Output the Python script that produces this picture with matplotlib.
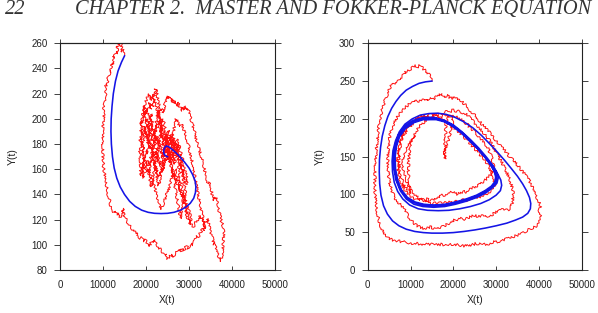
import matplotlib
matplotlib.use("Agg")
import matplotlib.pyplot as plt

# ---------------- data, as (X, Y) points ----------------
# Left panel: deterministic trajectory (blue)
left_blue = [(15000, 250), (14300, 245), (13500, 238), (12900, 230), (12400, 220), (12100, 210),
             (11900, 200), (11850, 190), (11950, 180), (12200, 170), (12600, 161), (13200, 153),
             (14000, 146), (15000, 140), (16200, 134.5), (17500, 130.5), (19000, 127.5),
             (20500, 125.8), (22000, 125), (23500, 124.8), (25000, 125), (26500, 125.8),
             (28000, 127.5), (29300, 130), (30300, 133), (31100, 137), (31500, 141.5),
             (31600, 146), (31400, 151), (30800, 156), (30000, 161), (29000, 165.5),
             (28000, 169.5), (27000, 173), (26000, 176), (25200, 178), (24700, 178.5),
             (24300, 177), (24100, 174.5), (24200, 172), (24600, 170.5), (25000, 170)]

# Left panel: stochastic trajectory (red) - outer excursion
left_red_outer = [
    (15000, 250), (14800, 252), (14600, 255), (14500, 253), (14300, 257), (14200, 260),
    (14000, 261), (13900, 259), (13700, 260), (13600, 257), (13400, 258), (13300, 254),
    (13100, 252), (12900, 253), (12700, 249), (12500, 250), (12400, 247), (12200, 243),
    (12100, 244), (11900, 240), (11700, 237), (11600, 238), (11400, 234), (11200, 233),
    (11000, 229), (10900, 226), (10700, 227), (10500, 223), (10600, 220), (10700, 218),
    (10500, 215), (10400, 212), (10200, 210), (10100, 206), (10200, 203), (10100, 199),
    (9950, 196), (10000, 192), (9900, 189), (10000, 185), (9950, 181), (9900, 177),
    (10000, 173), (9950, 169), (10100, 166), (10050, 162), (10200, 160), (10400, 156),
    (10350, 153), (10600, 150), (10700, 147), (10900, 145), (11100, 142), (11200, 139),
    (11500, 137), (11600, 134), (11800, 131), (12000, 129), (12300, 128), (12500, 126),
    (12800, 127), (13100, 125), (13400, 124), (13700, 125), (13900, 122), (14200, 123),
    (14500, 124), (14700, 129), (14800, 124), (15100, 121), (15400, 120), (15700, 118),
    (16000, 117), (16300, 115), (16600, 114), (16900, 112), (17200, 112), (17500, 109),
    (17800, 110), (18100, 108), (18400, 106), (18700, 105), (19000, 106), (19300, 104),
    (19600, 103), (19900, 104), (20200, 102), (20500, 100), (20800, 99), (21100, 101),
    (21400, 103), (21700, 102), (22000, 104), (22300, 101), (22600, 99), (22900, 98),
    (23200, 97), (23500, 96), (23800, 94), (24100, 92), (24400, 93), (24700, 90),
    (25000, 89), (25300, 90), (25600, 91), (25900, 90), (26200, 92), (26500, 91),
    (26800, 93), (27100, 94), (27400, 96), (27700, 95), (28000, 97), (28300, 95),
    (28600, 97), (28900, 96), (29200, 98), (29500, 99), (29800, 97), (30100, 99),
    (30400, 100), (30700, 101), (31000, 100), (31300, 103), (31600, 105), (31900, 107),
    (32200, 106), (32500, 109), (32800, 110), (33100, 113), (33400, 111), (33700, 116),
    (34000, 118), (34200, 121), (34400, 119), (34600, 116), (34800, 113), (35000, 111),
    (35200, 108), (35400, 106), (35600, 103), (35800, 100), (36000, 101), (36200, 97),
    (36400, 95), (36600, 93), (36800, 91), (37000, 90), (37200, 88), (37400, 87),
    (37500, 89), (37700, 92), (37800, 96), (37900, 100), (38000, 104), (38100, 108),
    (38000, 112), (37900, 115), (37700, 117), (37500, 119), (37300, 122), (37100, 125),
    (36900, 128), (36800, 131), (36600, 134), (36400, 137), (36200, 136), (36000, 138),
    (35800, 135), (35600, 137), (35400, 140), (35200, 143), (35000, 146), (34800, 148),
    (34600, 150), (34400, 149), (34200, 152), (34000, 155), (33800, 157), (33600, 160),
    (33400, 163), (33200, 165), (33000, 168), (32800, 171), (32600, 173), (32400, 175),
    (32200, 178), (32000, 180), (31800, 183), (31600, 185), (31400, 188), (31200, 191),
    (31000, 193), (30800, 196), (30600, 198), (30400, 201), (30200, 204), (30000, 206),
    (29800, 208), (29600, 207), (29400, 209), (29200, 208), (29000, 210), (28800, 207),
    (28600, 209), (28400, 206), (28200, 208), (28000, 209), (27800, 210), (27600, 212),
    (27400, 210), (27200, 213), (27000, 212), (26800, 214), (26600, 213), (26400, 215),
    (26200, 213), (26000, 216), (25800, 214), (25600, 217), (25400, 216), (25200, 218),
    (25000, 216), (24800, 218), (24600, 215), (24400, 212), (24200, 208), (24000, 205)]

# Left panel: stochastic trajectory (red) - tangle around the fixed point
left_red_tangle = [
    (24000, 205), (23700, 208), (23400, 206), (23100, 210), (22800, 214), (22600, 219),
    (22400, 222), (22200, 224), (22000, 221), (21900, 217), (21700, 213), (21500, 210),
    (21300, 212), (21100, 208), (20900, 211), (20700, 213), (20500, 209), (20300, 205),
    (20100, 207), (19900, 203), (19700, 206), (19500, 202), (19300, 199), (19100, 196),
    (18900, 198), (18700, 193), (18800, 188), (18600, 184), (18700, 179), (18500, 175),
    (18700, 171), (18600, 166), (18800, 162), (18700, 158), (18900, 155), (19100, 159),
    (19200, 164), (19400, 161), (19600, 166), (19700, 171), (19900, 175), (20100, 172),
    (20300, 178), (20400, 183), (20600, 187), (20700, 192), (20900, 196), (21000, 201),
    (21200, 204), (21400, 200), (21500, 195), (21700, 190), (21800, 185), (22000, 188),
    (22200, 192), (22300, 196), (22500, 200), (22700, 204), (22900, 207), (23100, 203),
    (23300, 198), (23500, 193), (23700, 189), (23900, 185), (24100, 181), (24300, 178),
    (24600, 175), (24800, 171), (25100, 168), (25300, 172), (25600, 176), (25800, 180),
    (26000, 184), (26200, 181), (26400, 185), (26600, 182), (26800, 178), (27000, 174),
    (27200, 170), (27400, 166), (27600, 161), (27800, 157), (28000, 152), (28200, 148),
    (28400, 144), (28600, 140), (28800, 137), (29000, 133), (29200, 129), (29400, 125),
    (29700, 121), (30000, 118), (30300, 116), (30600, 118), (30400, 122), (30100, 126),
    (29800, 129), (29500, 131), (29200, 135), (28900, 139), (28600, 138), (28300, 141),
    (28000, 145), (27700, 149), (27400, 152), (27100, 156), (26800, 160), (26500, 158),
    (26200, 155), (25900, 152), (25600, 148), (25300, 145), (25000, 142), (24700, 139),
    (24400, 136), (24100, 133), (23800, 131), (23500, 128), (23200, 131), (22900, 134),
    (22600, 138), (22300, 142), (22000, 146), (21700, 150), (21400, 153), (21100, 156),
    (20800, 160), (20500, 158), (20200, 161), (19900, 165), (19600, 169), (19400, 174),
    (19200, 178), (19400, 183), (19600, 187), (19800, 192), (20000, 196), (20200, 200),
    (20400, 197), (20600, 193), (20800, 189), (21000, 185), (21200, 181), (21400, 177),
    (21600, 173), (21800, 169), (22000, 165), (22200, 161), (22400, 157), (22600, 153),
    (22800, 150), (23000, 147), (23200, 151), (23400, 155), (23600, 159), (23800, 163),
    (24000, 167), (24200, 171), (24400, 175), (24600, 179), (24800, 183), (25000, 187),
    (25200, 191), (25400, 188), (25600, 184), (25800, 180), (26000, 176), (26200, 172),
    (26400, 168), (26600, 164), (26800, 168), (27000, 172), (27200, 176), (27400, 180),
    (27600, 176), (27800, 172), (28000, 168), (28200, 164), (28400, 160), (28600, 155),
    (28800, 150), (29000, 146), (29200, 142), (29000, 138), (28800, 134), (28600, 130),
    (28400, 127), (28200, 124), (28000, 121), (27800, 125), (27600, 129), (27400, 133),
    (27200, 137), (27000, 141), (26800, 145), (26600, 149), (26400, 153), (26200, 157),
    (26000, 161), (25800, 165), (25600, 169), (25400, 173), (25200, 177), (25000, 181),
    (24800, 185), (24600, 189), (24400, 193), (24200, 197), (24000, 200), (23800, 197),
    (23600, 193), (23400, 189), (23200, 185), (23000, 181), (22800, 177), (22600, 173),
    (22400, 169), (22200, 165), (22000, 161), (21800, 157), (21600, 153), (21400, 149),
    (21200, 146), (21000, 150), (20800, 154), (20600, 158), (20900, 162), (21300, 166),
    (21700, 170), (22100, 174), (22500, 171), (22900, 167), (23300, 163), (23700, 168),
    (24100, 173), (24500, 177), (24900, 174), (25300, 170), (25700, 166), (26100, 171),
    (26500, 176), (26900, 180), (27300, 184), (27700, 179), (28100, 173), (28500, 168),
    (28900, 163), (29300, 157), (29700, 152), (29400, 148), (29000, 153), (28600, 158),
    (28200, 163), (27800, 168), (27400, 172), (27000, 176), (26600, 180), (26200, 183),
    (25800, 179), (25400, 175), (25000, 172), (24600, 168), (24200, 164), (23800, 160),
    (23400, 157), (23000, 154), (22600, 158), (22200, 163), (21800, 167), (21400, 172),
    (21000, 177), (20600, 181), (20200, 186), (19800, 190), (19500, 194), (19800, 190),
    (20200, 186), (20600, 182), (21000, 178), (21400, 175), (21800, 178), (22200, 182),
    (22600, 186), (23000, 182), (23400, 178), (23800, 174), (24200, 170), (24600, 173),
    (25000, 176), (24600, 180), (24200, 186), (23800, 192), (23400, 197), (23000, 202),
    (22600, 207), (22200, 212), (21800, 216), (21400, 219), (21000, 215), (20600, 220),
    (20200, 216), (19800, 212), (19400, 207), (19100, 201), (18900, 195), (19200, 189),
    (19000, 183), (19300, 177), (19100, 170), (19400, 164), (19200, 158), (19500, 153),
    (19800, 157), (20100, 162), (20400, 167), (20700, 163), (21000, 168), (21300, 173),
    (21600, 178), (21900, 183), (22200, 188), (22500, 193), (22800, 198), (23100, 194),
    (23400, 189), (23700, 184), (24000, 179), (24300, 183), (24600, 188), (24900, 184),
    (25200, 180), (25500, 184), (25800, 188), (26100, 185), (26400, 190), (26700, 195),
    (27000, 200), (27400, 197), (27800, 194), (28200, 196), (28700, 192), (29100, 188),
    (29500, 184), (29900, 179), (30200, 174), (30600, 168), (31000, 163), (31200, 158),
    (31400, 153), (31800, 146), (32200, 139), (32600, 132), (33000, 125), (33400, 119),
    (33700, 113), (33400, 116), (33000, 120), (32600, 123), (32200, 121), (31800, 119),
    (31400, 117), (31000, 114), (30600, 116), (30200, 120), (29800, 124), (29400, 128),
    (29000, 131), (28600, 135), (28200, 139), (27800, 143), (27400, 147), (27000, 151),
    (26600, 155), (26200, 159), (25800, 163), (25400, 167), (25000, 171), (24600, 167),
    (24200, 163), (23800, 159), (23400, 163), (23000, 168), (22600, 172), (22200, 177),
    (21800, 181), (21400, 185), (21000, 190), (20600, 194), (20200, 198), (19800, 203),
    (19500, 207), (19800, 210), (20200, 206), (20600, 202), (21000, 198), (21400, 194),
    (21800, 190), (22200, 186), (22600, 182), (23000, 178), (23400, 174), (23800, 170),
    (24200, 175), (24600, 179), (25000, 176), (25400, 178), (25800, 182), (26200, 178),
    (26600, 174), (26200, 171), (25800, 173), (25400, 175), (25000, 174)]

# Right panel: deterministic trajectory (blue)
right_blue = [
    (15000, 250), (13500, 249), (12000, 247), (10500, 243), (9000, 238), (7700, 231),
    (6600, 223), (5600, 214), (4700, 203), (4000, 191), (3400, 177), (3000, 162),
    (2750, 146), (2700, 130), (2800, 114), (3100, 99), (3700, 85), (4600, 74),
    (5800, 65), (7300, 58.5), (9000, 54), (11000, 51), (13000, 49.5), (15000, 48.8),
    (17500, 48.8), (20000, 49.5), (22500, 51), (25000, 53), (27500, 55.5), (30000, 58.5),
    (32500, 62), (34500, 66), (36200, 70), (37400, 75), (38000, 81), (38100, 88),
    (37800, 96), (37100, 105), (36200, 114), (35000, 124), (33600, 134), (32000, 145),
    (30300, 156), (28500, 167), (26600, 178), (24600, 188), (22500, 196), (20400, 202),
    (18300, 206), (16300, 207.5), (14300, 207), (12300, 205), (10400, 200), (8700, 193),
    (7400, 183), (6500, 171), (5900, 158), (5700, 144), (5800, 130), (6200, 116),
    (7000, 104), (8200, 94), (9800, 86), (11800, 81), (14000, 79), (16500, 78.5),
    (19000, 79), (21500, 81), (24000, 84), (26400, 88), (28400, 93), (30000, 99),
    (31000, 105), (31300, 112), (31100, 119), (30400, 127), (29200, 137), (27600, 148),
    (25800, 160), (23800, 171), (21700, 182), (19600, 191), (17500, 198), (15500, 202),
    # converging onto the limit cycle
    (13000, 202), (10600, 198), (8600, 190), (7200, 179), (6400, 166), (6000, 151),
    (6100, 135), (6600, 119), (7600, 105), (9000, 94), (10800, 87), (12900, 84),
    (15400, 83), (18000, 84), (20500, 87), (23000, 91), (25500, 96), (27600, 102),
    (29200, 109), (30200, 115), (30500, 122), (30200, 129), (29300, 138), (27800, 149),
    (26000, 161), (24100, 172), (22000, 183), (20000, 192), (18000, 198), (16000, 201),
    (13000, 200), (10700, 196), (8700, 188), (7300, 177), (6600, 164), (6200, 149),
    (6300, 133), (6800, 118), (7800, 105), (9200, 95), (11000, 89), (13000, 86),
    (15500, 85), (18000, 86), (20500, 89), (23000, 93), (25500, 98), (27500, 104),
    (29000, 110), (29900, 116), (30100, 122), (29800, 129), (28900, 138), (27500, 149),
    (25800, 160), (24000, 171), (22000, 182), (20000, 191), (18000, 197), (16000, 200),
    (13000, 199), (10800, 195), (8800, 187), (7400, 176), (6700, 163), (6400, 149),
    (6500, 134), (7000, 119), (7900, 106), (9300, 96), (11100, 90), (13100, 87),
    (15500, 86), (18000, 87), (20500, 90), (23000, 94), (25400, 99), (27400, 105),
    (28900, 111), (29700, 117), (29900, 123), (29600, 130), (28700, 139), (27300, 150),
    (25600, 161), (23800, 171), (21900, 182), (20000, 190), (18000, 196), (16000, 199),
    (13500, 199)]

# Right panel: stochastic trajectory (red)
right_red = [
    (15000, 250), (14600, 256), (14200, 260), (13600, 263), (13000, 266), (12300, 271),
    (11700, 269), (11000, 270), (10300, 267), (9600, 265), (9000, 263), (8400, 258),
    (7800, 255), (7200, 251), (6600, 249), (6000, 246), (5400, 243), (4900, 237),
    (4400, 230), (4000, 224), (3600, 217), (3300, 210), (3000, 203), (2700, 194),
    (2500, 185), (2300, 177), (2200, 168), (2000, 160), (1900, 150), (1800, 140),
    (1700, 131), (1700, 121), (1600, 113), (1700, 104), (1800, 96), (1900, 89),
    (2000, 82), (2300, 74), (2600, 66), (3000, 59), (3500, 52), (4100, 47),
    (4800, 43), (5600, 40), (6500, 39), (7400, 38), (8300, 37), (9200, 37),
    (10000, 35), (10800, 36), (11600, 35), (12400, 34), (13200, 35), (14000, 34),
    (14800, 34), (15600, 35), (16400, 33), (17200, 34), (18000, 33), (18800, 34),
    (19600, 33), (20400, 34), (21200, 33), (22000, 32), (22800, 32), (23600, 33),
    (24400, 33), (25200, 35), (26000, 34), (26800, 35), (27600, 34), (28400, 35),
    (29200, 37), (30000, 37), (30800, 38), (31600, 40), (32400, 41), (33200, 42),
    (34000, 44), (34800, 46), (35600, 47), (36400, 50), (37200, 52), (38000, 55),
    (38700, 56), (39300, 58), (39800, 60), (40200, 64), (40400, 69), (40300, 74),
    (40100, 79), (40400, 84), (40200, 89), (39800, 92), (39500, 97), (39300, 102),
    (39000, 106), (38600, 109), (38200, 113), (37800, 118), (37400, 121), (37000, 124),
    (36500, 128), (36000, 131), (35500, 135), (35000, 139), (34500, 142), (34000, 145),
    (33500, 148), (33000, 151), (32500, 155), (32000, 158), (31500, 161), (31000, 164),
    (30500, 168), (30000, 171), (29500, 175), (29000, 178), (28500, 182), (28000, 185),
    (27500, 188), (27000, 191), (26500, 194), (26000, 198), (25500, 201), (25000, 205),
    (24500, 208), (24000, 211), (23500, 214), (23000, 218), (22500, 220), (22000, 223),
    (21500, 226), (21000, 225), (20500, 228), (20000, 230), (19500, 227), (19000, 229),
    (18500, 231), (18000, 228), (17500, 232), (17000, 233), (16500, 231), (16000, 229),
    (15500, 226), (15000, 228), (14500, 225), (14000, 227), (13500, 224), (13000, 226),
    (12500, 225), (12000, 222), (11500, 224), (11000, 225), (10500, 222), (10000, 220),
    (9500, 219), (9000, 216), (8500, 213), (8000, 211), (7500, 207), (7000, 203),
    (6500, 199), (6000, 193), (5600, 187), (5300, 180), (5000, 172), (4900, 164),
    (4800, 156), (4700, 148), (4700, 140), (4800, 132), (4900, 124), (5100, 116),
    (5400, 109), (5800, 102), (6300, 96), (6900, 91), (7500, 87), (8100, 83),
    (8700, 79), (9300, 73), (10000, 67), (10700, 62), (11400, 59), (12200, 57),
    (13000, 55), (13800, 56), (14600, 57), (15400, 55), (16200, 57), (17000, 56),
    (17800, 58), (18600, 61), (19400, 63), (20200, 66), (21000, 67), (21800, 68),
    (22600, 67), (23400, 69), (24200, 71), (25000, 72), (25800, 71), (26600, 72),
    (27400, 70), (28200, 72), (29000, 73), (29800, 76), (30600, 78), (31400, 80),
    (32200, 79), (32900, 80), (33500, 84), (33800, 89), (33900, 94), (34000, 100),
    (33900, 106), (33600, 112), (33300, 118), (32900, 124), (32400, 130), (31900, 136),
    (31400, 142), (30800, 148), (30200, 154), (29600, 160), (29000, 166), (28400, 172),
    (27800, 176), (27200, 180), (26600, 185), (26000, 189), (25400, 192), (24800, 196),
    (24200, 199), (23600, 203), (23000, 206), (22400, 207), (21800, 209), (21200, 211),
    (20600, 210), (20000, 212), (19400, 210), (18800, 211), (18200, 209), (17600, 207),
    (17000, 208), (16400, 205), (15800, 207), (15200, 204), (14600, 206), (14000, 203),
    (13400, 205), (12800, 202), (12200, 203), (11600, 200), (11000, 197), (10400, 193),
    (9800, 189), (9200, 185), (8600, 180), (8100, 175), (7700, 169), (7400, 162),
    (7200, 155), (7000, 148), (6900, 141), (7000, 134), (7200, 127), (7500, 120),
    (7900, 114), (8400, 108), (9000, 103), (9700, 99), (10400, 96), (11100, 94),
    (11800, 92), (12500, 95), (13200, 92), (13900, 94), (14600, 91), (15300, 93),
    (16000, 95), (16700, 97), (17400, 100), (18100, 98), (18800, 100), (19500, 103),
    (20200, 102), (20900, 100), (21600, 102), (22300, 104), (23000, 103), (23700, 106),
    (24400, 108), (25100, 110), (25800, 112), (26500, 115), (27200, 118), (27900, 121),
    (28500, 125), (29000, 129), (29300, 133), (29400, 138), (29200, 144), (28900, 150),
    (28500, 156), (28000, 162), (27400, 167), (26800, 171), (26200, 175), (25600, 179),
    (25000, 183), (24400, 186), (23800, 189), (23200, 193), (22600, 196), (22000, 198),
    (21400, 201), (20800, 203), (20200, 204), (19600, 205), (19000, 204), (18500, 200),
    (18300, 193), (18200, 185), (18300, 177), (18000, 170), (18100, 162), (17900, 155),
    (18000, 147), (18100, 155), (18300, 162), (18700, 168), (19000, 175), (19300, 181),
    (19600, 187), (19800, 193), (20000, 199), (19400, 202), (18800, 204), (18200, 205),
    (17600, 204), (17000, 203), (16400, 205), (15800, 204), (15200, 205), (14600, 203),
    (14000, 204), (13400, 202), (12800, 204), (12200, 203), (11600, 201), (11000, 199),
    (10400, 197), (9800, 194), (9300, 190), (8800, 186), (8400, 181), (8000, 175),
    (7700, 168), (7500, 161), (7400, 154), (7300, 147), (7400, 140), (7500, 133),
    (7700, 126), (8000, 120), (8400, 114), (8900, 109), (9500, 105), (10000, 101),
    (9800, 108), (9700, 115), (9600, 122), (9500, 129), (9600, 136), (9500, 143),
    (9700, 150), (9800, 157), (10000, 164), (10300, 170), (10600, 176), (11000, 181),
    (11500, 185), (12000, 189), (12600, 193), (13200, 196), (13800, 198), (14400, 200),
    (15000, 201), (15800, 200), (16600, 202), (17400, 199), (18200, 196), (19000, 193),
    (19800, 190), (20600, 186), (21400, 182), (22200, 178), (23000, 173), (23800, 168),
    (24600, 163), (25400, 158), (26200, 153), (27000, 148), (27700, 142), (28300, 137),
    (28800, 131), (29200, 125), (29500, 119), (29700, 113), (29300, 108), (28600, 104),
    (27800, 101), (27000, 99), (26200, 97), (25400, 96), (24600, 95), (23800, 94),
    (23000, 92), (22200, 93), (21400, 91), (20600, 92), (19800, 90), (19000, 91),
    (18200, 89), (17400, 90), (16600, 88), (15800, 89), (15000, 87), (14200, 89),
    (13400, 91), (12600, 93), (11800, 96), (11000, 100), (10300, 105), (9700, 110),
    (9200, 116), (8800, 122), (8500, 128), (8300, 134), (8200, 140), (8300, 146),
    (8500, 152), (8800, 158), (9200, 163), (9700, 168), (10300, 173), (11000, 178)]

x_ticks = [0, 10000, 20000, 30000, 40000, 50000]
left_y_ticks = [80, 100, 120, 140, 160, 180, 200, 220, 240, 260]
right_y_ticks = [0, 50, 100, 150, 200, 250, 300]

# ---------------- figure ----------------
W, H = 598, 313
fig = plt.figure(figsize=(W / 100, H / 100), dpi=100)

RED = "#ff1010"
BLUE = "#1414e6"
INK = "#222222"
tick_font = dict(family="Liberation Sans", size=7)


def style_axes(ax, ylim, yticks):
    ax.set_xlim(0, 50000)
    ax.set_ylim(*ylim)
    ax.set_xticks(x_ticks)
    ax.set_yticks(yticks)
    ax.set_xticklabels([str(v) for v in x_ticks], fontdict=tick_font, color=INK)
    ax.set_yticklabels([str(v) for v in yticks], fontdict=tick_font, color=INK)
    ax.tick_params(axis="x", direction="in", length=3, width=0.6, pad=7, top=False, colors=INK)
    ax.tick_params(axis="y", direction="out", length=4, width=0.6, pad=5, right=True, colors=INK)
    top = ax.secondary_xaxis("top")
    top.set_xticks(x_ticks)
    top.set_xticklabels([])
    top.tick_params(axis="x", direction="out", length=3, width=0.6, colors=INK)
    top.spines["top"].set_linewidth(0.8)
    top.spines["top"].set_color(INK)
    for s in ax.spines.values():
        s.set_linewidth(0.8)
        s.set_color(INK)
    ax.set_xlabel("X(t)", family="Liberation Sans", size=7.5, color=INK, labelpad=4)
    ax.set_ylabel("Y(t)", family="Liberation Sans", size=7.5, color=INK, labelpad=10)


def xs(pts):
    return [p[0] for p in pts]


def ys(pts):
    return [p[1] for p in pts]


ax1 = fig.add_axes([60 / W, (H - 270) / H, 215 / W, 226.7 / H])
ax2 = fig.add_axes([367.7 / W, (H - 270) / H, 214 / W, 226.7 / H])

for ax, red_parts, blue in [(ax1, [left_red_outer, left_red_tangle], left_blue),
                            (ax2, [right_red], right_blue)]:
    for part in red_parts:
        l, = ax.plot(xs(part), ys(part), color=RED, lw=0.7)
        l.set_sketch_params(scale=1.3, length=2.5, randomness=6)
    ax.plot(xs(blue), ys(blue), color=BLUE, lw=1.15)

style_axes(ax1, (80, 260), left_y_ticks)
style_axes(ax2, (0, 300), right_y_ticks)

# page header
fig.text(5 / W, 1 - 14 / H, "22", family="Liberation Serif", style="italic",
         size=14.8, va="baseline", ha="left", color="#333333")
fig.text(75 / W, 1 - 14 / H, "CHAPTER 2.  MASTER AND FOKKER-PLANCK EQUATION",
         family="Liberation Serif", style="italic", size=14.7, va="baseline", ha="left",
         color="#333333")

fig.savefig("out.png", dpi=100)
